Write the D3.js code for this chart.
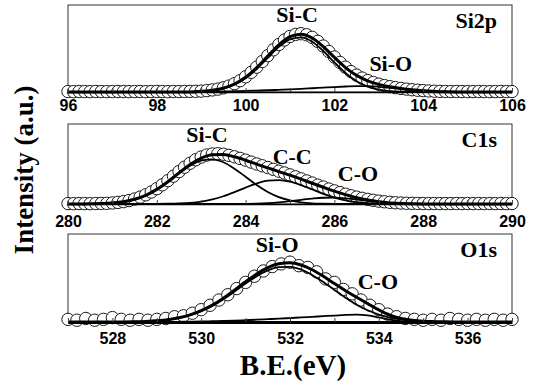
<!DOCTYPE html>
<html>
<head>
<meta charset="utf-8">
<script src="https://cdn.jsdelivr.net/npm/d3@7"></script>
<style>
  body { margin: 0; background: #fff; }
  svg { display: block; }
</style>
</head>
<body>
<svg id="chart" width="535" height="386"></svg>
<script>
// XPS spectra: Si2p, C1s, O1s with fitted components

// --- Si2p ---
var si2pStart = 96, si2pEnd = 106;
var si2pDataStep = 0.125;
var si2pData = [
  0.5, 0.4, 0.6, 0.5, 0.4, 0.6, 0.5, 0.4, 0.5, 0.6, 0.5, 0.4,
  0.5, 0.6, 0.4, 0.5, 0.6, 0.5, 0.4, 0.6, 0.5, 0.6, 0.7, 0.8,
  1.0, 1.6, 2.4, 3.3, 4.8, 6.8, 9.6, 13.0, 17.5, 22.6, 28.6, 35.0,
  41.8, 48.5, 54.6, 59.8, 63.9, 66.2, 67.0, 65.8, 62.8, 58.2, 52.8, 46.5,
  40.2, 34.0, 28.5, 23.4, 19.4, 16.0, 13.2, 10.9, 9.0, 7.4, 6.1, 5.0,
  4.1, 3.3, 2.6, 2.0, 1.6, 1.2, 0.9, 0.7, 0.6,
  0.5, 0.6, 0.5, 0.4, 0.5, 0.6, 0.5, 0.4, 0.5, 0.6, 0.5, 0.5
];
var si2pFitStep = 0.25;
var si2pSiC = [
  0, 0, 0, 0, 0, 0, 0, 0, 0, 0, 0, 0,
  0.6, 1.6, 3.9, 8.3, 15.7, 26.4, 39.3, 51.8, 60.6, 62.8, 57.8, 47.1,
  34.0, 21.8, 12.3, 6.2, 2.8, 1.1, 0.4, 0.1,
  0, 0, 0, 0, 0, 0, 0, 0, 0
];
var si2pSiO = [
  0, 0, 0, 0, 0, 0, 0, 0, 0, 0, 0, 0,
  0.2, 0.4, 0.6, 0.9, 1.2, 1.6, 2.0, 2.5, 3.0, 3.6, 4.3, 5.0,
  5.7, 6.3, 6.8, 6.7, 6.0, 4.9, 3.6, 2.4, 1.4, 0.7, 0.3, 0.1,
  0, 0, 0, 0, 0
];
var si2pEnv = [
  0, 0, 0, 0, 0, 0, 0, 0, 0, 0, 0, 0,
  0.8, 2.0, 4.5, 9.2, 16.9, 28.0, 41.3, 54.3, 63.6, 66.4, 62.1, 52.1,
  39.7, 28.1, 19.1, 12.9, 8.8, 6.0, 4.0, 2.5, 1.4, 0.7, 0.3, 0.1,
  0, 0, 0, 0, 0
];

// --- C1s ---
var c1sStart = 280, c1sEnd = 290;
var c1sDataStep = 0.125;
var c1sData = [
  0.5, 0.4, 0.6, 0.5, 0.4, 0.6, 0.7, 0.8,
  1.3, 2.0, 3.0, 4.3, 6.2, 8.6, 11.5, 15.0, 19.2, 24.0, 29.2, 34.8,
  40.5, 46.0, 51.0, 55.3, 58.7, 61.2, 62.5, 62.8, 62.2, 60.8, 59.0, 57.0,
  54.8, 52.4, 50.0, 47.8, 45.6, 43.3, 41.0, 38.8, 36.4, 34.0, 31.4, 28.8,
  26.2, 23.6, 21.2, 18.7, 16.4, 14.2, 12.2, 10.3, 8.6, 7.1, 5.8, 4.6,
  3.6, 2.8, 2.1, 1.6, 1.2, 0.9, 0.8, 0.7,
  0.6, 0.5, 0.6, 0.5, 0.6, 0.5, 0.6, 0.5, 0.6, 0.5, 0.6, 0.5, 0.6, 0.5, 0.6, 0.5, 0.6
];
var c1sFitStep = 0.25;
var c1sSiC = [
  0, 0.1, 0.2, 0.6, 1.3, 2.8, 5.9, 10.8, 18.2, 27.6, 38.2, 47.8,
  54.3, 55.9, 52.2, 44.2, 34.0, 23.7, 15.0, 8.5, 4.5, 2.1, 0.9, 0.4, 0.1,
  0, 0, 0, 0, 0, 0, 0, 0, 0, 0, 0, 0, 0, 0, 0, 0
];
var c1sCC = [
  0, 0, 0, 0, 0, 0, 0, 0,
  0.1, 0.3, 0.7, 1.5, 3.1, 5.8, 9.7, 14.8, 20.5, 25.6, 29.1, 29.9,
  28.0, 23.7, 18.2, 12.7, 8.0, 4.6, 2.4, 1.1, 0.5, 0.2,
  0, 0, 0, 0, 0, 0, 0, 0, 0, 0, 0
];
var c1sCO = [
  0, 0, 0, 0, 0, 0, 0, 0, 0, 0, 0, 0, 0, 0, 0, 0,
  0.2, 0.5, 1.1, 2.1, 3.5, 5.2, 6.8, 7.8, 7.9, 7.1, 5.5, 3.8, 2.3, 1.2, 0.6, 0.3, 0.1,
  0, 0, 0, 0, 0, 0, 0, 0
];
var c1sEnv = [
  0, 0.1, 0.2, 0.6, 1.3, 2.8, 5.9, 10.8, 18.3, 27.9, 38.9, 49.3,
  57.4, 61.7, 61.9, 59.0, 54.7, 49.8, 45.2, 40.5, 36.0, 31.0, 25.9, 20.9,
  16.0, 11.7, 7.9, 4.9, 2.8, 1.4, 0.6, 0.3, 0.1,
  0, 0, 0, 0, 0, 0, 0, 0
];

// --- O1s ---
var o1sStart = 527, o1sEnd = 537;
var o1sDataStep = 0.2;
var o1sData = [
  3, 2, 4, 2, 3, 5, 3, 2, 3, 2,
  3, 4, 6, 7, 10, 14, 19, 25, 31, 38,
  45, 52, 58, 63, 66, 68, 64, 62, 57, 49,
  45, 37, 32, 25, 19, 14, 9, 6, 4, 3,
  2, 3, 2, 4, 3, 2, 3, 2, 3, 2,
  3
];
var o1sFitStep = 0.25;
var o1sSiO = [
  0, 0, 0, 0, 0, 0.1, 0.3, 0.7,
  1.4, 2.6, 4.6, 7.7, 12.3, 18.3, 25.9, 34.6, 43.6, 52.0, 58.6, 62.4,
  62.7, 59.6, 53.5, 45.4, 36.4, 27.6, 19.7, 13.3, 8.5, 5.1, 2.9, 1.6,
  0.8, 0.4, 0.2, 0.1, 0, 0, 0, 0, 0
];
var o1sCO = [
  0, 0, 0, 0, 0, 0, 0, 0, 0, 0, 0.2, 0.4,
  0.6, 0.9, 1.2, 1.6, 2.1, 2.6, 3.2, 3.8, 4.5, 5.2, 5.9, 6.6,
  7.3, 8.0, 8.4, 7.6, 5.2, 2.6, 1.0, 0.3,
  0, 0, 0, 0, 0, 0, 0, 0, 0
];
var o1sEnv = [
  0, 0, 0, 0, 0, 0.1, 0.3, 0.7,
  1.4, 2.6, 4.8, 8.1, 12.9, 19.2, 27.1, 36.2, 45.7, 54.6, 61.8, 66.2,
  67.2, 64.8, 59.4, 52.0, 43.7, 35.6, 28.1, 20.9, 13.7, 7.7, 3.9, 1.9,
  0.8, 0.4, 0.2, 0.1, 0, 0, 0, 0, 0
];

// peak names and where they sit (eV, intensity)
var si2pPeakNames = ["Si-C", "Si-O"];
var si2pPeakAt = [[101.16, 80.5], [103.27, 24.1]];
var c1sPeakNames = ["Si-C", "C-C", "C-O"];
var c1sPeakAt = [[283.13, 77.5], [285.05, 50], [286.53, 28.7]];
var o1sPeakNames = ["Si-O", "C-O"];
var o1sPeakAt = [[531.71, 79.5], [533.98, 37.5]];

var panelTitles = ["Si2p", "C1s", "O1s"];

// layout
var left = 68, right = 512;
var tops = [5, 124, 234], bottoms = [92, 204, 322];
var labelPad = [8, 12, 11];
var baseWidth = [1.5, 1.5, 3];

var panels = [
  { title: panelTitles[0], domain: [si2pStart, si2pEnd], data: si2pData, dataStep: si2pDataStep,
    fitStep: si2pFitStep, comps: [si2pSiC, si2pSiO], env: si2pEnv, names: si2pPeakNames, at: si2pPeakAt },
  { title: panelTitles[1], domain: [c1sStart, c1sEnd], data: c1sData, dataStep: c1sDataStep,
    fitStep: c1sFitStep, comps: [c1sSiC, c1sCC, c1sCO], env: c1sEnv, names: c1sPeakNames, at: c1sPeakAt },
  { title: panelTitles[2], domain: [o1sStart, o1sEnd], data: o1sData, dataStep: o1sDataStep,
    fitStep: o1sFitStep, comps: [o1sSiO, o1sCO], env: o1sEnv, names: o1sPeakNames, at: o1sPeakAt }
];

var svg = d3.select("#chart");
var serif = "'Liberation Serif', 'Times New Roman', serif";
var sans = "'Liberation Sans', Arial, sans-serif";

panels.forEach(function(p, i) {
  var x = d3.scaleLinear().domain(p.domain).range([left, right]);
  var y = d3.scaleLinear().domain([0, 100]).range([bottoms[i], tops[i]]);
  var g = svg.append("g").attr("class", "panel panel-" + i);

  // frame
  g.append("rect")
    .attr("x", left).attr("y", tops[i])
    .attr("width", right - left).attr("height", bottoms[i] - tops[i])
    .attr("fill", "none").attr("stroke", "#333").attr("stroke-width", 1);

  // measured points
  var pts = p.data.map(function(v, k) { return [p.domain[0] + k * p.dataStep, v]; });
  g.append("g").selectAll("circle")
    .data(pts)
    .join("circle")
    .attr("cx", function(d) { return x(d[0]); })
    .attr("cy", function(d) { return y(d[1]); })
    .attr("r", 6.2)
    .attr("fill", "#fff")
    .attr("stroke", "#1a1a1a")
    .attr("stroke-width", 1);

  // fitted lines
  var line = d3.line()
    .x(function(d) { return x(d[0]); })
    .y(function(d) { return y(d[1]); })
    .curve(d3.curveMonotoneX);
  function toPts(arr) {
    return arr.map(function(v, k) { return [p.domain[0] + k * p.fitStep, v]; });
  }
  p.comps.forEach(function(c) {
    g.append("path").attr("d", line(toPts(c)))
      .attr("fill", "none").attr("stroke", "#000").attr("stroke-width", 1.8);
  });
  g.append("path").attr("d", line(toPts(p.env)))
    .attr("fill", "none").attr("stroke", "#000").attr("stroke-width", 3);

  // x axis
  var ax = d3.axisBottom(x)
    .tickValues(d3.range(p.domain[0], p.domain[1] + 0.5, 1))
    .tickSize(-4)
    .tickSizeOuter(0)
    .tickPadding(labelPad[i])
    .tickFormat(function(d) { return d % 2 === 0 ? d : ""; });
  var axg = g.append("g").attr("transform", "translate(0," + bottoms[i] + ")").call(ax);
  axg.select(".domain").attr("stroke", "#000").attr("stroke-width", baseWidth[i]);
  axg.selectAll(".tick line").attr("stroke", "#444");
  axg.selectAll(".tick text")
    .attr("font-family", sans).attr("font-weight", "bold").attr("font-size", 16).attr("fill", "#000");

  // peak names
  g.selectAll("text.peak")
    .data(p.names)
    .join("text")
    .attr("class", "peak")
    .attr("x", function(d, k) { return x(p.at[k][0]); })
    .attr("y", function(d, k) { return y(p.at[k][1]); })
    .attr("text-anchor", "middle")
    .attr("font-family", serif).attr("font-weight", "bold").attr("font-size", 22)
    .text(function(d) { return d; });

  // panel title
  g.append("text")
    .attr("x", right - 15).attr("y", tops[i] + 23)
    .attr("text-anchor", "end")
    .attr("font-family", serif).attr("font-weight", "bold").attr("font-size", 22)
    .text(p.title);
});

// axis titles
svg.append("text")
  .attr("transform", "translate(33,170) rotate(-90)")
  .attr("text-anchor", "middle")
  .attr("font-family", serif).attr("font-weight", "bold").attr("font-size", 27)
  .text("Intensity (a.u.)");

svg.append("text")
  .attr("x", 293).attr("y", 375)
  .attr("text-anchor", "middle")
  .attr("font-family", serif).attr("font-weight", "bold").attr("font-size", 29)
  .text("B.E.(eV)");
</script>
</body>
</html>
